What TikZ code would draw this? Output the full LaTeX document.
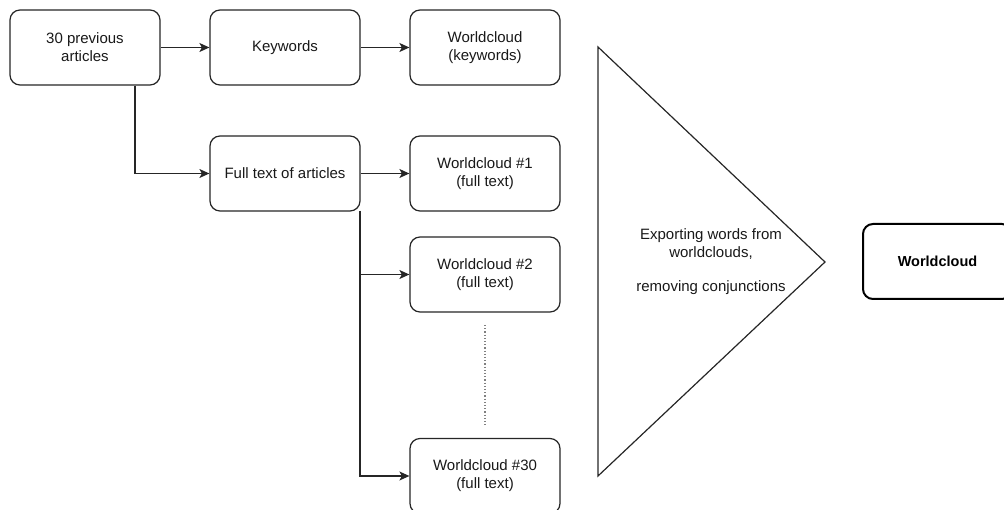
\documentclass[tikz,border=0pt]{standalone}
\usepackage{fontspec}
\setmainfont{Liberation Sans}
\usetikzlibrary{arrows.meta}
\begin{document}
\begin{tikzpicture}[x=1pt,y=-1pt,
  box/.style={draw=black!85, line width=1.2pt, rounded corners=10pt, fill=white,
    minimum width=150pt, minimum height=75pt, align=center, font=\fontsize{15}{18}\selectfont, text=black!90, inner sep=0pt},
  boldbox/.style={box, line width=2pt, draw=black, text=black, font=\fontsize{14.5}{17}\selectfont\bfseries},
  conn/.style={draw=black!85, line width=1.2pt, -{Stealth[length=10pt,width=9pt,inset=2.5pt]}},
  plain/.style={draw=black!85, line width=1.2pt}]
\useasboundingbox (0,0) rectangle (1004,510);
\node[box] (art) at (85,47.5) {30 previous\\articles};
\node[box] (kw) at (285,47.5) {Keywords};
\node[box] (wck) at (485,47.5) {Worldcloud\\(keywords)};
\node[box] (full) at (285,173.5) {Full text of articles};
\node[box] (wc1) at (485,173.5) {Worldcloud \#1\\(full text)};
\node[box] (wc2) at (485,274.5) {Worldcloud \#2\\(full text)};
\node[box] (wc30) at (485,476) {Worldcloud \#30\\(full text)};
\node[boldbox, minimum width=149pt] (wc) at (937.5,261.5) {Worldcloud};
\coordinate (dtop) at (485,325);
\coordinate (dbot) at (485,427);
\draw[plain, dotted, draw=black!50] (dtop) -- (dbot);
\draw[conn] (art) -- (kw);
\draw[conn] (kw) -- (wck);
\draw[conn] (full) -- (wc1);
\draw[conn] (art.south -| 135,0) |- (full.west);
\coordinate (fb) at (360,211);
\draw[conn] (fb) |- (wc2.west);
\draw[conn] (fb) |- (wc30.west);
\coordinate (t1) at (598,47);
\coordinate (t2) at (825,262);
\coordinate (t3) at (598,476);
\draw[draw=black!85, line width=1.2pt] (t1) -- (t2) -- (t3) -- cycle;
\node[align=center, font=\fontsize{15}{17.5}\selectfont, text=black!90] (tx) at (711,262) {Exporting words from\\worldclouds,\\[17pt]removing conjunctions};
\end{tikzpicture}
\end{document}
